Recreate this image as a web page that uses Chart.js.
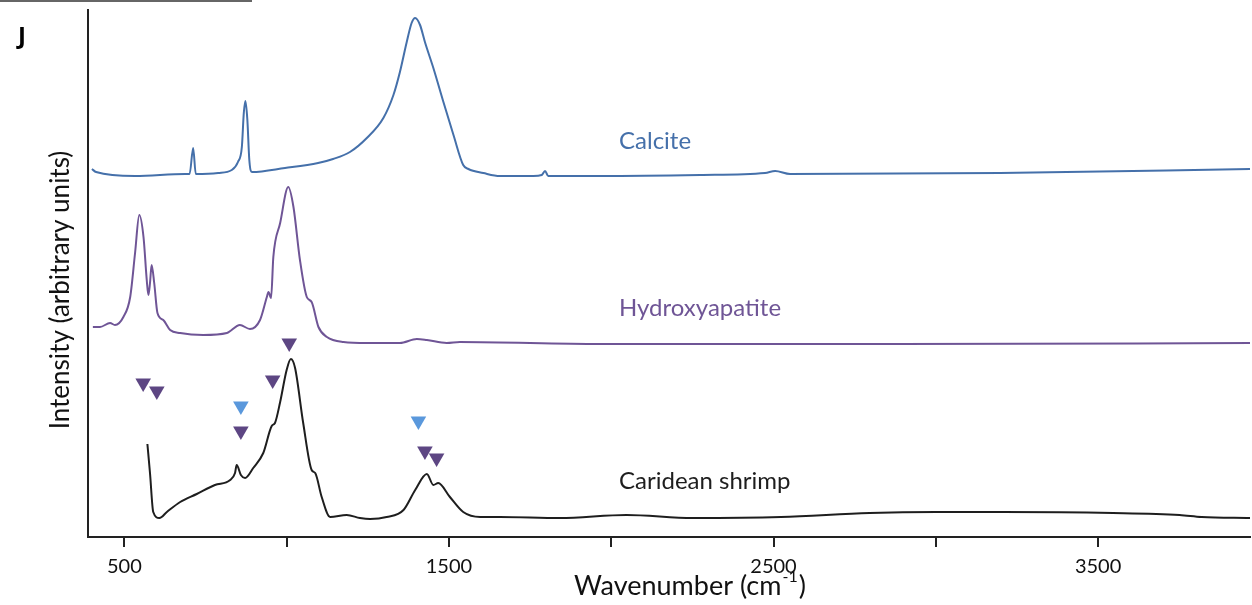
<!DOCTYPE html>
<html>
<head>
<meta charset="utf-8">
<title>Spectra J</title>
<script src="https://cdn.jsdelivr.net/npm/chart.js@4/dist/chart.umd.min.js"></script>
<style>
html,body{margin:0;padding:0;background:#fff;}
#wrap{width:1252px;height:605px;position:relative;}
</style>
</head>
<body>
<div id="wrap"><canvas id="spectraChart"></canvas></div>
<script>
/* ================= DATA ================= */

const calciteWavenumber=[400,413,533,687,701,712,720,789,831,850,862,868,873,879,885,893,995,1097,1143,1195,1247,1298,1329,1349,1370,1385,1396,1411,1426,1452,1483,1514,1544,1560,1606,1657,1760,1786,1796,1806,1966,2274,2474,2505,2551,3198,3968];
const calciteIntensity=[368,365,361,363,363,389,363,364,367,375,390,424,436,417,377,365,369,374,378,385,399,419,442,465,495,514,519,512,495,469,435,402,372,368,364,361,361,362,366,361,361,362,364,366,363,364,368];

const hapWavenumber=[403,425,456,471,497,518,533,546,559,569,574,579,584,592,602,620,641,672,743,816,856,887,918,939,944,952,959,980,1005,1021,1041,1062,1077,1098,1124,1175,1247,1349,1401,1432,1493,1534,1966,2274,2890,3968];
const hapIntensity=[210,210,214,212,220,240,284,322,300,257,242,254,272,254,224,217,207,204,202,204,212,208,217,240,245,239,280,314,350,330,277,240,235,210,200,195,194,194,198,197,194,195,193,193,193,194];

const shrimpWavenumber=[571,579,589,608,631,672,723,779,826,841,846,859,872,897,928,954,964,980,1000,1013,1026,1051,1077,1088,1108,1134,1185,1226,1257,1308,1360,1396,1432,1452,1467,1503,1544,1596,1657,1842,2047,2251,2523,2796,3001,3206,3546,3751,3819,3968];
const shrimpIntensity=[93,64,25,19,25,35,43,52,57,64,72,62,59,69,84,111,114,135,167,178,169,114,67,64,40,20,22,19,18,20,27,47,63,52,54,40,25,20,20,19,22,19,20,24,25,25,24,22,20,19];

// hydroxyapatite-type bands marked on the shrimp spectrum
const hapMarkWavenumber=[558,600,859,957,1008,1426,1462];
const hapMarkIntensity=[154,146,106,157,194,86,79];

// calcite-type bands marked on the shrimp spectrum
const calMarkWavenumber=[859,1406];
const calMarkIntensity=[131,116];

const seriesNames=["Calcite","Hydroxyapatite","Caridean shrimp"];
const xTickValues=[500,1000,1500,2000,2500,3000,3500];
const xTickLabelled=[500,1500,2500,3500];


/* ================= STYLE ================= */

const FONT="Lato, 'Open Sans', sans-serif";
const calciteColor="#4570aa";
const hapColor="#6f5596";
const shrimpColor="#1e1e1e";
const hapMarkColor="#5d4683";
const calMarkColor="#5a98dc";

const nameColors=[calciteColor,hapColor,shrimpColor];
const nameAnchorX=2024;
const nameAnchorY=[396,229,56];


/* ================= HELPERS ================= */

function toPoints(xs,ys){
return xs.map((x,i)=>({x,y:ys[i]}));
}

function spectrum(label,xs,ys,color){
return {
type:"line",
label,
data:toPoints(xs,ys),
borderColor:color,
borderWidth:2,
pointRadius:0,
cubicInterpolationMode:"monotone",
fill:false
};
}

function markers(label,xs,ys,color){
return {
type:"scatter",
label,
data:toPoints(xs,ys),
pointStyle:"triangle",
rotation:180,
pointRadius:9,
backgroundColor:color,
borderWidth:0
};
}


/* ================= TEXT PLUGIN ================= */

const textPlugin={
id:"spectraText",
afterDraw(chart){

const {ctx,scales:{x,y}}=chart;
ctx.save();

// series names
ctx.font="24px "+FONT;
ctx.textAlign="left";
ctx.textBaseline="middle";
seriesNames.forEach((name,i)=>{
ctx.fillStyle=nameColors[i];
ctx.fillText(name,x.getPixelForValue(nameAnchorX),y.getPixelForValue(nameAnchorY[i]));
});

// panel letter
ctx.fillStyle="#000";
ctx.textBaseline="alphabetic";
ctx.font="bold 24px 'Open Sans', sans-serif";
ctx.fillText("J",18,44);

// frame fragment at top left
ctx.strokeStyle="#666";
ctx.lineWidth=2;
ctx.beginPath();
ctx.moveTo(0,1);
ctx.lineTo(252,1);
ctx.stroke();

// x title with superscript
ctx.fillStyle="#111";
const main="Wavenumber (cm";
const sup="-1";
ctx.font="27px "+FONT;
const wMain=ctx.measureText(main).width;
const wClose=ctx.measureText(")").width;
ctx.font="16px "+FONT;
const wSup=ctx.measureText(sup).width;
let tx=689-(wMain+wSup+wClose)/2;
ctx.font="27px "+FONT;
ctx.fillText(main,tx,595);
ctx.font="16px "+FONT;
ctx.fillText(sup,tx+wMain+1,582);
ctx.font="27px "+FONT;
ctx.fillText(")",tx+wMain+wSup+2,595);

// y title
ctx.translate(61,290);
ctx.rotate(-Math.PI/2);
ctx.textAlign="center";
ctx.textBaseline="middle";
ctx.font="26px "+FONT;
ctx.fillText("Intensity (arbitrary units)",0,0);

ctx.restore();
}
};


/* ================= CHART ================= */

function buildChart(){

const canvas=document.getElementById("spectraChart");

return new Chart(canvas,{
data:{
datasets:[
spectrum("Calcite",calciteWavenumber,calciteIntensity,calciteColor),
spectrum("Hydroxyapatite",hapWavenumber,hapIntensity,hapColor),
spectrum("Caridean shrimp",shrimpWavenumber,shrimpIntensity,shrimpColor),
markers("Hydroxyapatite bands",hapMarkWavenumber,hapMarkIntensity,hapMarkColor),
markers("Calcite bands",calMarkWavenumber,calMarkIntensity,calMarkColor)
]
},
options:{
responsive:true,
maintainAspectRatio:false,
animation:false,
layout:{autoPadding:false,padding:{top:10,right:2,left:0,bottom:0}},
plugins:{legend:{display:false},tooltip:{enabled:false}},
scales:{
x:{
type:"linear",
min:388,
max:3968,
afterBuildTicks:scale=>{scale.ticks=xTickValues.map(v=>({value:v}));},
afterFit:scale=>{
scale.height=68;
scale.paddingLeft=0;
scale.paddingRight=0;
},
border:{display:true,color:"#222",width:2},
grid:{display:true,drawOnChartArea:false,drawTicks:true,tickLength:10,color:"#222",lineWidth:2},
ticks:{
autoSkip:false,
maxRotation:0,
padding:8,
color:"#111",
font:{family:FONT,size:20},
callback:v=>xTickLabelled.includes(v)?String(v):""
}
},
y:{
type:"linear",
min:0,
max:527,
afterFit:scale=>{scale.width=88;},
border:{display:true,color:"#222",width:2},
grid:{display:false},
ticks:{display:false}
}
}
},
plugins:[textPlugin]
});

}

document.addEventListener("DOMContentLoaded",()=>{
buildChart();
});
</script>
</body>
</html>
